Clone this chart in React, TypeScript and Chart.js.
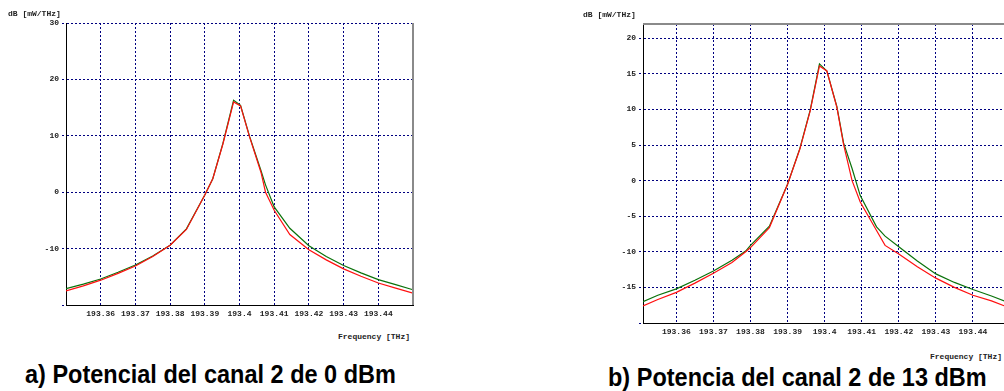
import React, { useEffect, useRef } from 'react';
import { Chart, registerables } from 'chart.js';

Chart.register(...registerables);

// ---------- data ----------
const leftXTickValues = [193.35, 193.36, 193.37, 193.38, 193.39, 193.4, 193.41, 193.42, 193.43, 193.44, 193.45];
const leftXTickLabels = ['', '193.36', '193.37', '193.38', '193.39', '193.4', '193.41', '193.42', '193.43', '193.44', ''];
const rightXTickValues = [193.36, 193.37, 193.38, 193.39, 193.4, 193.41, 193.42, 193.43, 193.44, 193.45];
const rightXTickLabels = ['193.36', '193.37', '193.38', '193.39', '193.4', '193.41', '193.42', '193.43', '193.44', ''];

const leftYTickValues = [-20, -10, 0, 10, 20, 30];
const leftYTickLabels = ['', '-10', '0', '10', '20', '30'];
const rightYTickValues = [-20, -15, -10, -5, 0, 5, 10, 15, 20];
const rightYTickLabels = ['', '-15', '-10', '-5', '0', '5', '10', '15', '20'];

// a) canal 2 a 0 dBm
const leftFreq = [193.35, 193.355, 193.36, 193.365, 193.37, 193.375, 193.38, 193.3847, 193.39, 193.3923, 193.3952, 193.3983, 193.4003, 193.4029, 193.4062, 193.4075, 193.41, 193.4145, 193.42, 193.425, 193.43, 193.435, 193.44, 193.445, 193.45];
const leftGreen = [-17.1, -16.3, -15.4, -14.2, -12.9, -11.3, -9.4, -6.5, -0.5, 2.4, 8.6, 16.3, 15.4, 9.9, 3.8, 1.3, -2.6, -6.4, -9.5, -11.4, -13.0, -14.3, -15.5, -16.4, -17.3];
const leftRed = [-17.5, -16.6, -15.6, -14.4, -13.1, -11.4, -9.4, -6.6, -0.5, 2.4, 8.5, 16.0, 15.3, 9.8, 3.5, 0.0, -3.2, -7.5, -10.2, -12.0, -13.6, -14.9, -16.1, -17.0, -17.9];

// b) canal 2 a 13 dBm
const rightFreq = [193.351, 193.355, 193.36, 193.365, 193.37, 193.375, 193.3787, 193.38, 193.3851, 193.39, 193.3933, 193.3961, 193.3986, 193.4006, 193.4033, 193.4051, 193.4074, 193.4096, 193.414, 193.4163, 193.42, 193.425, 193.43, 193.435, 193.44, 193.445, 193.45];
const rightGreen = [-17.0, -16.1, -15.2, -14.0, -12.7, -11.2, -9.9, -9.1, -6.4, -0.5, 4.5, 9.9, 16.4, 15.4, 10.4, 5.3, 1.7, -2.1, -6.5, -7.8, -9.3, -11.3, -13.1, -14.3, -15.3, -16.2, -17.2];
const rightRed = [-17.6, -16.7, -15.7, -14.4, -13.0, -11.5, -10.0, -9.4, -6.6, -0.5, 4.4, 9.8, 16.1, 15.4, 10.3, 5.1, 0.0, -3.0, -7.0, -9.1, -10.3, -12.1, -13.7, -15.0, -16.1, -16.9, -17.9];

const GRID = '#000080';
const MONO = "'Liberation Mono', 'DejaVu Sans Mono', monospace";

type PanelProps = {
  freq: number[];
  green: number[];
  red: number[];
  xMin: number;
  xMax: number;
  xTicks: number[];
  xLabels: string[];
  yMin: number;
  yMax: number;
  yTicks: number[];
  yLabels: string[];
  yAxisWidth: number;
  padTop: number;
  padRight: number;
  xAxisHeight: number;
  edge: 'right' | 'top';
  left: number;
  width: number;
  height: number;
};

function Panel(p: PanelProps) {
  const ref = useRef<HTMLCanvasElement | null>(null);
  useEffect(() => {
    if (!ref.current) return;
    const edgePlugin = {
      id: 'edgeLine',
      afterDraw(chart: any) {
        const { ctx, chartArea } = chart;
        ctx.save();
        ctx.strokeStyle = '#8a8a8a';
        ctx.lineWidth = 2;
        ctx.beginPath();
        if (p.edge === 'right') {
          ctx.moveTo(chartArea.right, chartArea.top);
          ctx.lineTo(chartArea.right, chartArea.bottom);
        } else {
          ctx.moveTo(chartArea.left, chartArea.top);
          ctx.lineTo(chartArea.right + 20, chartArea.top);
        }
        ctx.stroke();
        ctx.restore();
      },
    };
    const chart = new Chart(ref.current, {
      type: 'line',
      data: {
        datasets: [
          {
            label: 'red',
            data: p.freq.map((f, i) => ({ x: f, y: p.red[i] })),
            borderColor: '#ff1010',
            borderWidth: 1.2,
            pointRadius: 0,
            tension: 0,
          },
          {
            label: 'green',
            data: p.freq.map((f, i) => ({ x: f, y: p.green[i] })),
            borderColor: '#0a720a',
            borderWidth: 1.2,
            pointRadius: 0,
            tension: 0,
          },
        ],
      },
      options: {
        animation: false,
        responsive: false,
        maintainAspectRatio: false,
        layout: { padding: { left: 0, top: p.padTop, right: p.padRight, bottom: 0 } },
        plugins: { legend: { display: false }, tooltip: { enabled: false }, title: { display: false } },
        scales: {
          x: {
            type: 'linear',
            min: p.xMin,
            max: p.xMax,
            afterBuildTicks: (s: any) => {
              s.ticks = p.xTicks.map((v) => ({ value: v }));
            },
            afterFit: (s: any) => {
              s.height = p.xAxisHeight;
            },
            ticks: {
              autoSkip: false,
              maxRotation: 0,
              minRotation: 0,
              padding: 4,
              color: '#222',
              font: { family: MONO, size: 8, weight: 'bold' },
              callback: (_v: any, i: number) => p.xLabels[i],
            },
            grid: { color: GRID, lineWidth: 1, drawTicks: false },
            border: { color: '#000', width: 1, dash: [2, 2] },
          },
          y: {
            type: 'linear',
            min: p.yMin,
            max: p.yMax,
            afterBuildTicks: (s: any) => {
              s.ticks = p.yTicks.map((v) => ({ value: v }));
            },
            afterFit: (s: any) => {
              s.width = p.yAxisWidth;
            },
            ticks: {
              autoSkip: false,
              padding: 3,
              color: '#222',
              font: { family: MONO, size: 8, weight: 'bold' },
              callback: (_v: any, i: number) => p.yLabels[i],
            },
            grid: { color: GRID, lineWidth: 1, tickLength: 4, tickColor: GRID, tickBorderDash: [2, 2] },
            border: { color: '#000', width: 1, dash: [2, 2] },
          },
        },
      },
      plugins: [edgePlugin],
    } as any);
    return () => chart.destroy();
  }, []);
  return (
    <canvas
      ref={ref}
      width={p.width}
      height={p.height}
      style={{ position: 'absolute', left: p.left, top: 0, width: p.width, height: p.height }}
    />
  );
}

const small: React.CSSProperties = {
  position: 'absolute',
  fontFamily: MONO,
  fontSize: 8,
  fontWeight: 'bold',
  lineHeight: '8px',
  color: '#222',
  whiteSpace: 'nowrap',
};

const caption: React.CSSProperties = {
  position: 'absolute',
  fontFamily: "'Liberation Sans', Arial, sans-serif",
  fontSize: 23.5,
  fontWeight: 'bold',
  lineHeight: '24px',
  color: '#000',
  whiteSpace: 'nowrap',
  transform: 'scaleY(1.1)',
  transformOrigin: '0 20px',
};

export default function App() {
  return (
    <div style={{ position: 'absolute', left: 0, top: 0, width: 1004, height: 391, overflow: 'hidden', background: '#fff' }}>
      <Panel
        freq={leftFreq}
        green={leftGreen}
        red={leftRed}
        xMin={193.35}
        xMax={193.45}
        xTicks={leftXTickValues}
        xLabels={leftXTickLabels}
        yMin={-20}
        yMax={30}
        yTicks={leftYTickValues}
        yLabels={leftYTickLabels}
        yAxisWidth={66}
        padTop={23}
        padRight={7}
        xAxisHeight={15}
        edge="right"
        left={0}
        width={420}
        height={320}
      />
      <Panel
        freq={rightFreq}
        green={rightGreen}
        red={rightRed}
        xMin={193.351}
        xMax={193.45}
        xTicks={rightXTickValues}
        xLabels={rightXTickLabels}
        yMin={-20}
        yMax={22}
        yTicks={rightYTickValues}
        yLabels={rightYTickLabels}
        yAxisWidth={83}
        padTop={24}
        padRight={10}
        xAxisHeight={15}
        edge="top"
        left={560}
        width={460}
        height={338}
      />
      <div style={{ ...small, left: 8, top: 10 }}>dB [mW/THz]</div>
      <div style={{ ...small, left: 338, top: 333 }}>Frequency [THz]</div>
      <div style={{ ...small, left: 583, top: 11 }}>dB [mW/THz]</div>
      <div style={{ ...small, left: 930, top: 353 }}>Frequency [THz]</div>
      <div style={{ ...caption, left: 25, top: 363 }}>a) Potencial del canal 2 de 0 dBm</div>
      <div style={{ ...caption, left: 608, top: 366 }}>b) Potencia del canal 2 de 13 dBm</div>
    </div>
  );
}
